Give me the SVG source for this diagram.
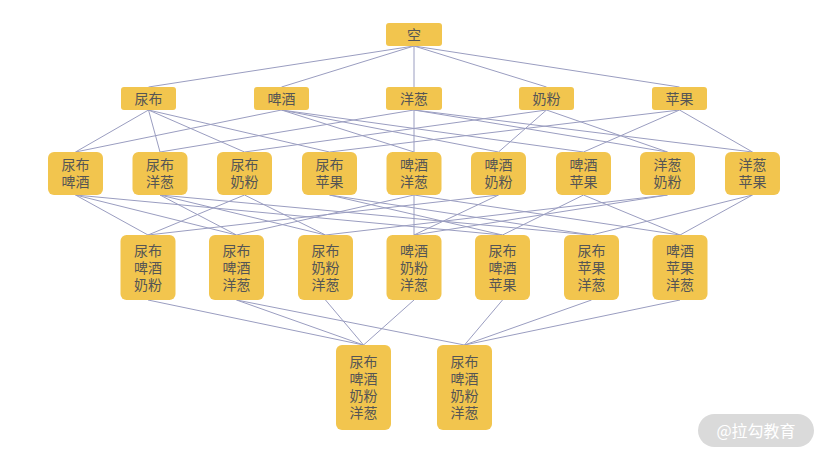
<svg xmlns="http://www.w3.org/2000/svg" width="825" height="458" viewBox="0 0 825 458">
<style>
.n rect{fill:#f2c54e}
.n text{font-family:"Noto Sans CJK SC","Noto Sans",sans-serif;font-size:14px;fill:#555;text-anchor:middle}
#edges line{stroke:#9a9dc0;stroke-width:1}
.wm{font-family:"Noto Sans CJK SC","Noto Sans",sans-serif;font-size:16px;fill:#fff;text-anchor:middle}
</style>
<rect width="825" height="458" fill="#fff"/>
<g id="edges">
<line x1="414" y1="46" x2="148.5" y2="87"/>
<line x1="414" y1="46" x2="281.5" y2="87"/>
<line x1="414" y1="46" x2="414" y2="87"/>
<line x1="414" y1="46" x2="546.5" y2="87"/>
<line x1="414" y1="46" x2="679.5" y2="87"/>
<line x1="148.5" y1="110" x2="75.5" y2="152"/>
<line x1="148.5" y1="110" x2="160" y2="152"/>
<line x1="148.5" y1="110" x2="244.5" y2="152"/>
<line x1="148.5" y1="110" x2="329.5" y2="152"/>
<line x1="281.5" y1="110" x2="75.5" y2="152"/>
<line x1="281.5" y1="110" x2="414" y2="152"/>
<line x1="281.5" y1="110" x2="498.5" y2="152"/>
<line x1="281.5" y1="110" x2="583.5" y2="152"/>
<line x1="414" y1="110" x2="160" y2="152"/>
<line x1="414" y1="110" x2="414" y2="152"/>
<line x1="414" y1="110" x2="667.5" y2="152"/>
<line x1="414" y1="110" x2="752.5" y2="152"/>
<line x1="546.5" y1="110" x2="244.5" y2="152"/>
<line x1="546.5" y1="110" x2="498.5" y2="152"/>
<line x1="546.5" y1="110" x2="667.5" y2="152"/>
<line x1="679.5" y1="110" x2="329.5" y2="152"/>
<line x1="679.5" y1="110" x2="583.5" y2="152"/>
<line x1="679.5" y1="110" x2="752.5" y2="152"/>
<line x1="75.5" y1="195" x2="148" y2="235"/>
<line x1="244.5" y1="195" x2="148" y2="235"/>
<line x1="498.5" y1="195" x2="148" y2="235"/>
<line x1="75.5" y1="195" x2="236.5" y2="235"/>
<line x1="160" y1="195" x2="236.5" y2="235"/>
<line x1="414" y1="195" x2="236.5" y2="235"/>
<line x1="244.5" y1="195" x2="325.5" y2="235"/>
<line x1="160" y1="195" x2="325.5" y2="235"/>
<line x1="667.5" y1="195" x2="325.5" y2="235"/>
<line x1="498.5" y1="195" x2="414" y2="235"/>
<line x1="414" y1="195" x2="414" y2="235"/>
<line x1="667.5" y1="195" x2="414" y2="235"/>
<line x1="75.5" y1="195" x2="502.5" y2="235"/>
<line x1="329.5" y1="195" x2="502.5" y2="235"/>
<line x1="583.5" y1="195" x2="502.5" y2="235"/>
<line x1="329.5" y1="195" x2="591.5" y2="235"/>
<line x1="160" y1="195" x2="591.5" y2="235"/>
<line x1="752.5" y1="195" x2="591.5" y2="235"/>
<line x1="583.5" y1="195" x2="680" y2="235"/>
<line x1="414" y1="195" x2="680" y2="235"/>
<line x1="752.5" y1="195" x2="680" y2="235"/>
<line x1="148" y1="300" x2="363.5" y2="345"/>
<line x1="236.5" y1="300" x2="363.5" y2="345"/>
<line x1="325.5" y1="300" x2="363.5" y2="345"/>
<line x1="414" y1="300" x2="363.5" y2="345"/>
<line x1="236.5" y1="300" x2="464.5" y2="345"/>
<line x1="502.5" y1="300" x2="464.5" y2="345"/>
<line x1="591.5" y1="300" x2="464.5" y2="345"/>
<line x1="680" y1="300" x2="464.5" y2="345"/>
</g>
<g id="n0" class="n"><rect x="386" y="23" width="56" height="23" rx="3"/><text x="414" y="39.5">空</text></g>
<g id="n1" class="n"><rect x="121" y="87" width="55" height="23" rx="3"/><text x="148.5" y="103.5">尿布</text></g>
<g id="n2" class="n"><rect x="254" y="87" width="55" height="23" rx="3"/><text x="281.5" y="103.5">啤酒</text></g>
<g id="n3" class="n"><rect x="386" y="87" width="56" height="23" rx="3"/><text x="414" y="103.5">洋葱</text></g>
<g id="n4" class="n"><rect x="519" y="87" width="55" height="23" rx="3"/><text x="546.5" y="103.5">奶粉</text></g>
<g id="n5" class="n"><rect x="652" y="87" width="55" height="23" rx="3"/><text x="679.5" y="103.5">苹果</text></g>
<g id="n12" class="n"><rect x="48" y="152" width="55" height="43" rx="6"/><text y="170"><tspan x="75.5">尿布</tspan><tspan x="75.5" dy="17">啤酒</tspan></text></g>
<g id="n13" class="n"><rect x="132.5" y="152" width="55" height="43" rx="6"/><text y="170"><tspan x="160">尿布</tspan><tspan x="160" dy="17">洋葱</tspan></text></g>
<g id="n14" class="n"><rect x="217" y="152" width="55" height="43" rx="6"/><text y="170"><tspan x="244.5">尿布</tspan><tspan x="244.5" dy="17">奶粉</tspan></text></g>
<g id="n15" class="n"><rect x="302" y="152" width="55" height="43" rx="6"/><text y="170"><tspan x="329.5">尿布</tspan><tspan x="329.5" dy="17">苹果</tspan></text></g>
<g id="n23" class="n"><rect x="386.5" y="152" width="55" height="43" rx="6"/><text y="170"><tspan x="414">啤酒</tspan><tspan x="414" dy="17">洋葱</tspan></text></g>
<g id="n24" class="n"><rect x="471" y="152" width="55" height="43" rx="6"/><text y="170"><tspan x="498.5">啤酒</tspan><tspan x="498.5" dy="17">奶粉</tspan></text></g>
<g id="n25" class="n"><rect x="556" y="152" width="55" height="43" rx="6"/><text y="170"><tspan x="583.5">啤酒</tspan><tspan x="583.5" dy="17">苹果</tspan></text></g>
<g id="n34" class="n"><rect x="640" y="152" width="55" height="43" rx="6"/><text y="170"><tspan x="667.5">洋葱</tspan><tspan x="667.5" dy="17">奶粉</tspan></text></g>
<g id="n35" class="n"><rect x="725" y="152" width="55" height="43" rx="6"/><text y="170"><tspan x="752.5">洋葱</tspan><tspan x="752.5" dy="17">苹果</tspan></text></g>
<g id="n124" class="n"><rect x="120.5" y="235" width="55" height="65" rx="6"/><text y="256"><tspan x="148">尿布</tspan><tspan x="148" dy="17">啤酒</tspan><tspan x="148" dy="17">奶粉</tspan></text></g>
<g id="n123" class="n"><rect x="209" y="235" width="55" height="65" rx="6"/><text y="256"><tspan x="236.5">尿布</tspan><tspan x="236.5" dy="17">啤酒</tspan><tspan x="236.5" dy="17">洋葱</tspan></text></g>
<g id="n143" class="n"><rect x="298" y="235" width="55" height="65" rx="6"/><text y="256"><tspan x="325.5">尿布</tspan><tspan x="325.5" dy="17">奶粉</tspan><tspan x="325.5" dy="17">洋葱</tspan></text></g>
<g id="n243" class="n"><rect x="386.5" y="235" width="55" height="65" rx="6"/><text y="256"><tspan x="414">啤酒</tspan><tspan x="414" dy="17">奶粉</tspan><tspan x="414" dy="17">洋葱</tspan></text></g>
<g id="n125" class="n"><rect x="475" y="235" width="55" height="65" rx="6"/><text y="256"><tspan x="502.5">尿布</tspan><tspan x="502.5" dy="17">啤酒</tspan><tspan x="502.5" dy="17">苹果</tspan></text></g>
<g id="n153" class="n"><rect x="564" y="235" width="55" height="65" rx="6"/><text y="256"><tspan x="591.5">尿布</tspan><tspan x="591.5" dy="17">苹果</tspan><tspan x="591.5" dy="17">洋葱</tspan></text></g>
<g id="n253" class="n"><rect x="652.5" y="235" width="55" height="65" rx="6"/><text y="256"><tspan x="680">啤酒</tspan><tspan x="680" dy="17">苹果</tspan><tspan x="680" dy="17">洋葱</tspan></text></g>
<g id="n1243a" class="n"><rect x="336" y="345" width="55" height="85" rx="6"/><text y="367"><tspan x="363.5">尿布</tspan><tspan x="363.5" dy="17">啤酒</tspan><tspan x="363.5" dy="17">奶粉</tspan><tspan x="363.5" dy="17">洋葱</tspan></text></g>
<g id="n1243b" class="n"><rect x="437" y="345" width="55" height="85" rx="6"/><text y="367"><tspan x="464.5">尿布</tspan><tspan x="464.5" dy="17">啤酒</tspan><tspan x="464.5" dy="17">奶粉</tspan><tspan x="464.5" dy="17">洋葱</tspan></text></g>
<g id="watermark"><rect x="698" y="414" width="116" height="33" rx="16.5" fill="#dadada"/><text class="wm" x="756" y="437">@拉勾教育</text></g>
</svg>
